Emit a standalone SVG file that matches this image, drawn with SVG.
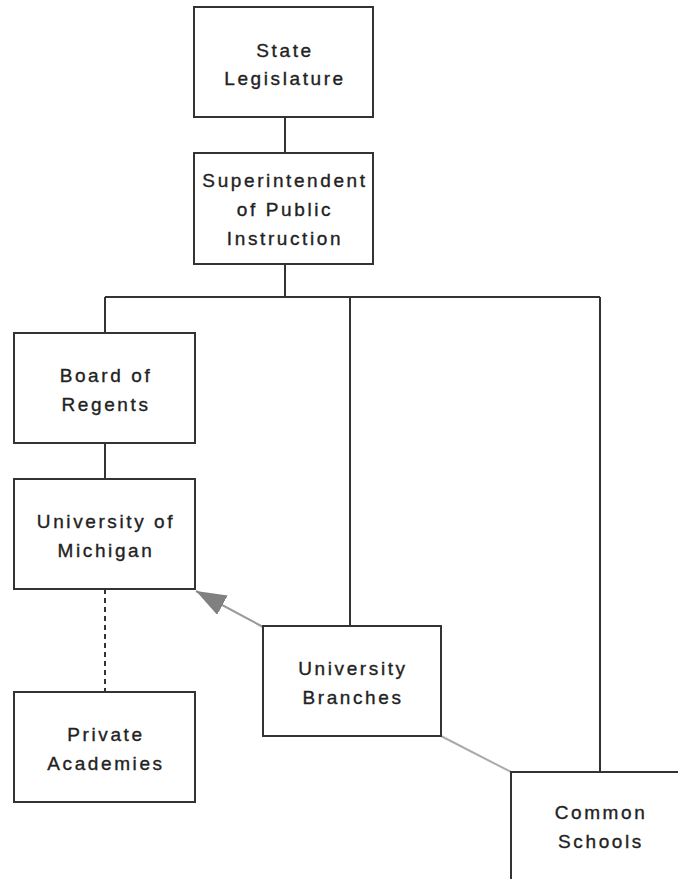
<svg xmlns="http://www.w3.org/2000/svg" width="678" height="879" viewBox="0 0 678 879">
<style>
.box{fill:#fff;stroke:#333;stroke-width:2}
.lbl{font-family:"Liberation Sans",Arial,sans-serif;font-size:19px;letter-spacing:2.6px;fill:#222;stroke:#222;stroke-width:0.35;text-anchor:middle}
.c{fill:none;stroke:#333;stroke-width:2}
.dash{stroke-dasharray:5,4}
.grey{fill:none;stroke:#999;stroke-width:2}
.lgrey{fill:none;stroke:#aaa;stroke-width:2}
</style>
<defs>
<marker id="arr" markerUnits="userSpaceOnUse" markerWidth="32" markerHeight="24" refX="30" refY="11" orient="auto">
<path d="M0,0 L30,11 L0,22 Z" fill="#808080"/>
</marker>
</defs>
<rect width="678" height="879" fill="#fff"/>
<g id="connectors">
<path class="c" d="M285,117 V153"/>
<path class="c" d="M285,264 V297 M105,297 H600 M105,297 V333 M350,297 V626 M600,297 V772"/>
<path class="c" d="M105,443 V479"/>
<path class="c dash" d="M105,589 V692"/>
<path class="grey" d="M263,627 L196,591" marker-end="url(#arr)"/>
<path class="lgrey" d="M441,736 L511,772"/>
</g>
<g id="state-legislature">
<rect class="box" x="194" y="7" width="179" height="110"/>
<text class="lbl" x="285" y="57">State</text>
<text class="lbl" x="285" y="85">Legislature</text>
</g>
<g id="superintendent">
<rect class="box" x="194" y="153" width="179" height="111"/>
<text class="lbl" x="285" y="187">Superintendent</text>
<text class="lbl" x="285" y="216">of Public</text>
<text class="lbl" x="285" y="245">Instruction</text>
</g>
<g id="board-of-regents">
<rect class="box" x="14" y="333" width="181" height="110"/>
<text class="lbl" x="106" y="382">Board of</text>
<text class="lbl" x="106" y="411">Regents</text>
</g>
<g id="university-of-michigan">
<rect class="box" x="14" y="479" width="181" height="110"/>
<text class="lbl" x="106" y="528">University of</text>
<text class="lbl" x="106" y="557">Michigan</text>
</g>
<g id="private-academies">
<rect class="box" x="14" y="692" width="181" height="110"/>
<text class="lbl" x="106" y="741">Private</text>
<text class="lbl" x="106" y="770">Academies</text>
</g>
<g id="university-branches">
<rect class="box" x="263" y="626" width="178" height="110"/>
<text class="lbl" x="353" y="675">University</text>
<text class="lbl" x="353" y="704">Branches</text>
</g>
<g id="common-schools">
<rect class="box" x="511" y="772" width="178" height="112"/>
<text class="lbl" x="601" y="819">Common</text>
<text class="lbl" x="601" y="848">Schools</text>
</g>
</svg>
